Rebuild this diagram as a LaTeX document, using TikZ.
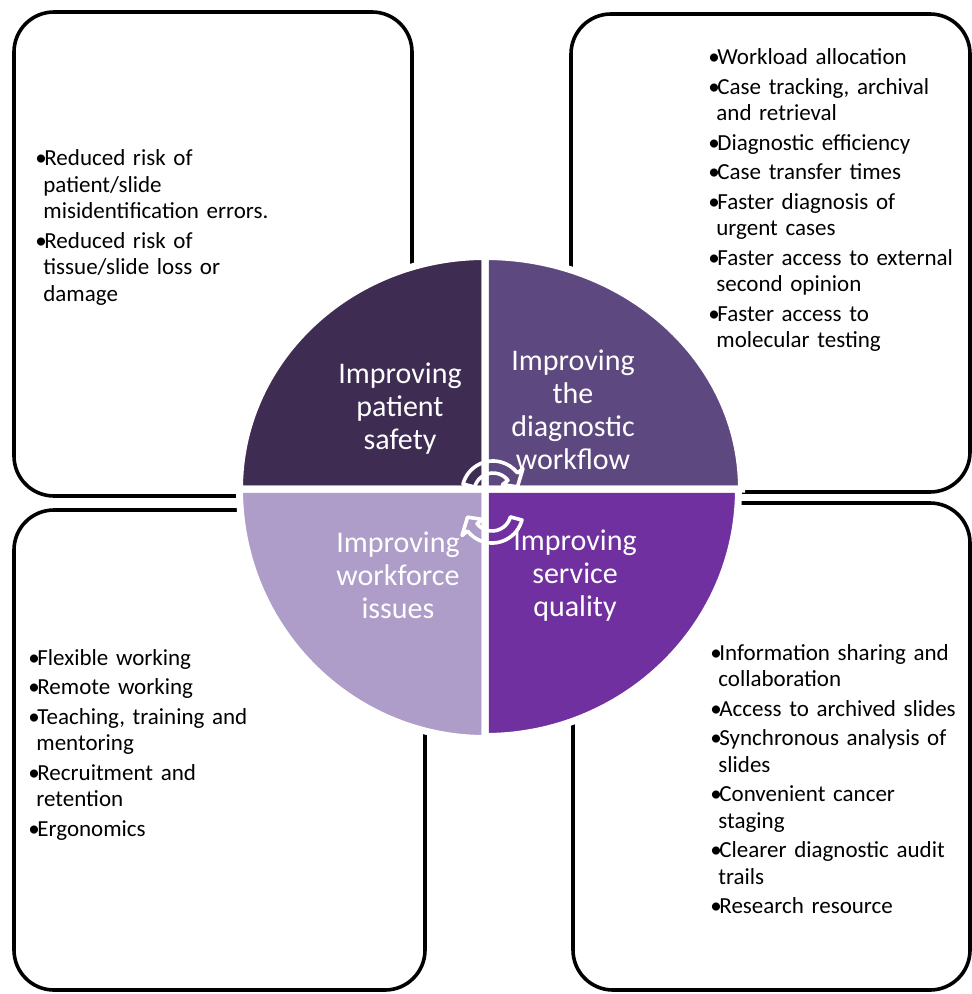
\documentclass[tikz,border=0pt]{standalone}
\usepackage{fontspec}
\setmainfont{Carlito}
\usetikzlibrary{calc}
\definecolor{qTL}{HTML}{3E2C52}
\definecolor{qTR}{HTML}{5E4880}
\definecolor{qBL}{HTML}{AE9DC8}
\definecolor{qBR}{HTML}{7030A0}
\newcommand\bitem[1]{\hangindent=4pt\hangafter=1\noindent\makebox[4.5pt][l]{•}#1\par}
\tikzset{
  box/.style={draw=black, line width=1.8pt, rounded corners=20pt},
  quad/.style={draw=white, line width=3.5pt},
  lbl/.style={text=white, align=center, font=\fontsize{15}{16.5}\selectfont, inner sep=0pt},
  blist/.style={anchor=base west, inner sep=0pt, text width=#1, align=left,
    font=\fontsize{11.5}{13.25}\selectfont\setlength\parskip{1.5pt}},
  cyc/.style={draw=white, line width=1.8pt, line join=round},
}
\begin{document}
\begin{tikzpicture}[x=0.5pt,y=-0.5pt]
\useasboundingbox (0,0) rectangle (971,994);
\fill[white] (0,0) rectangle (971,994);
% boxes
\draw[box] (14,12) rectangle (412,496);
\draw[box] (571,14) rectangle (970,492);
\draw[box] (14,510) rectangle (425,990);
\draw[box] (573,503) rectangle (970,990);
% quadrants
\coordinate (ctr) at (485,489);
\fill[qTL] (ctr) -- ++(-245.5,0) arc[start angle=180, end angle=270, x radius=245.5, y radius=232.5] -- cycle;
\fill[qTR] (ctr) -- ++(0,-232.5) arc[start angle=270, end angle=360, x radius=256.5, y radius=232.5] -- cycle;
\fill[qBR] (ctr) -- ++(253.5,0) arc[start angle=0, end angle=90, x radius=253.5, y radius=247.5] -- cycle;
\fill[qBL] (ctr) -- ++(0,249.5) arc[start angle=90, end angle=180, x radius=245.5, y radius=249.5] -- cycle;
\draw[quad] (ctr) -- ++(-245.5,0) arc[start angle=180, end angle=270, x radius=245.5, y radius=232.5] -- cycle;
\draw[quad] (ctr) -- ++(0,-232.5) arc[start angle=270, end angle=360, x radius=256.5, y radius=232.5] -- cycle;
\draw[quad] (ctr) -- ++(253.5,0) arc[start angle=0, end angle=90, x radius=253.5, y radius=247.5] -- cycle;
\draw[quad] (ctr) -- ++(0,249.5) arc[start angle=90, end angle=180, x radius=245.5, y radius=249.5] -- cycle;
% labels
\node[lbl] (lTL) at (400,409) {Improving\\patient\\safety};
\node[lbl] (lTR) at (573,410) {Improving\\the\\diagnostic\\workflow};
\node[lbl] (lBL) at (398,575) {Improving\\workforce\\issues};
\node[lbl] (lBR) at (575,576) {Improving\\service\\quality};
% cycle arrows
\coordinate (ca) at (493,492);
\coordinate (cb) at (492,512);
\draw[cyc] ($(ca)+(195:31)$) arc[start angle=195, end angle=322, radius=31]
  -- ($(ca)+(322:38)$) -- ($(ca)+(348:25)$) -- ($(ca)+(322:12)$) -- ($(ca)+(322:19)$)
  arc[start angle=322, end angle=195, radius=19] -- cycle;
\draw[cyc] ($(cb)+(15:31)$) arc[start angle=15, end angle=142, radius=31]
  -- ($(cb)+(142:38)$) -- ($(cb)+(168:25)$) -- ($(cb)+(142:12)$) -- ($(cb)+(142:19)$)
  arc[start angle=142, end angle=15, radius=19] -- cycle;
% lists
\node[blist=130pt] (tTL) at (35,166) {%
\bitem{Reduced risk of\newline patient/slide\newline misidentification errors.}
\bitem{Reduced risk of\newline tissue/slide loss or\newline damage}};
\node[blist=130pt] (tTR) at (708,65) {%
\bitem{Workload allocation}
\bitem{Case tracking, archival\newline and retrieval}
\bitem{Diagnostic efficiency}
\bitem{Case transfer times}
\bitem{Faster diagnosis of\newline urgent cases}
\bitem{Faster access to external\newline second opinion}
\bitem{Faster access to\newline molecular testing}};
\node[blist=130pt] (tBL) at (28,665) {%
\bitem{Flexible working}
\bitem{Remote working}
\bitem{Teaching, training and\newline mentoring}
\bitem{Recruitment and\newline retention}
\bitem{Ergonomics}};
\node[blist=130pt] (tBR) at (710,660) {%
\bitem{Information sharing and\newline collaboration}
\bitem{Access to archived slides}
\bitem{Synchronous analysis of\newline slides}
\bitem{Convenient cancer\newline staging}
\bitem{Clearer diagnostic audit\newline trails}
\bitem{Research resource}};
\end{tikzpicture}
\end{document}
